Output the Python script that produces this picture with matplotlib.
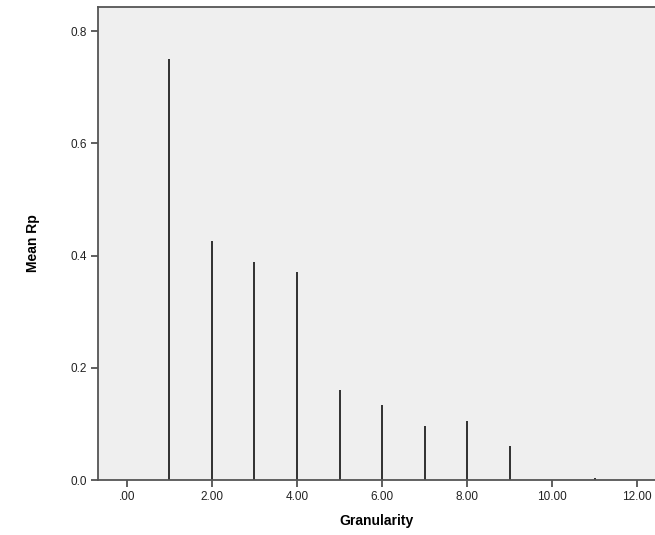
import matplotlib.pyplot as plt
from matplotlib.ticker import FuncFormatter

plt.rcParams['font.family'] = ['Liberation Sans', 'DejaVu Sans']

# data
granularity = [1, 2, 3, 4, 5, 6, 7, 8, 9, 11]
mean_rp = [0.750, 0.426, 0.389, 0.371, 0.160, 0.134, 0.096, 0.105, 0.061, 0.003]
x_ticks = [0, 2, 4, 6, 8, 10, 12]
y_ticks = [0.0, 0.2, 0.4, 0.6, 0.8]


def fmt_x(v, pos):
    s = f"{v:.2f}"
    return s[1:] if s.startswith("0") else s


fig = plt.figure(figsize=(6.55, 5.35), dpi=100)
ax = fig.add_axes([0.1496, 0.1028, 0.8504, 0.884])
ax.set_facecolor("#efefef")

ax.vlines(granularity, 0, mean_rp, colors="#222222", linewidth=1.3)

ax.set_xlim(-0.68, 12.42)
ax.set_ylim(0, 0.843)
ax.set_xticks(x_ticks)
ax.set_yticks(y_ticks)
ax.xaxis.set_major_formatter(FuncFormatter(fmt_x))
ax.yaxis.set_major_formatter(FuncFormatter(lambda v, p: f"{v:.1f}"))

for side in ["left", "top", "bottom"]:
    ax.spines[side].set_color("#555555")
    ax.spines[side].set_linewidth(1.3)
ax.spines["right"].set_visible(False)

ax.tick_params(axis="both", labelsize=8.5, length=5, width=1.2, color="#444444",
               labelcolor="#222222", pad=3)

ax.set_xlabel("Granularity", fontsize=10, fontweight="bold", labelpad=8)
ax.set_ylabel("Mean Rp", fontsize=10, fontweight="bold", labelpad=22)

fig.savefig("out.png", dpi=100)
